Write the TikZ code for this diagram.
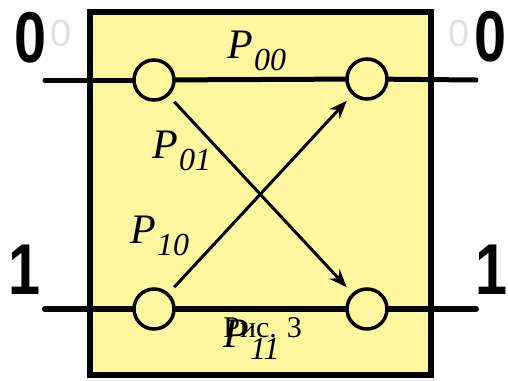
\documentclass[tikz,border=0pt]{standalone}
\usepackage{fontspec}
\setmainfont{Liberation Serif}
\newfontfamily\digitfont{Liberation Sans}
\usetikzlibrary{arrows.meta}
\definecolor{boxyellow}{RGB}{255,246,158}
\tikzset{
    port/.style={circle, draw=black, fill=boxyellow, line width=1.75pt, minimum size=20pt, inner sep=0pt},
    wire/.style={line width=2.5pt, line cap=round},
    arrow/.style={-{Stealth[length=9pt, width=7pt]}, line width=1.5pt, shorten <=4pt, shorten >=4pt},
    bitlabel/.style={font=\digitfont\bfseries\fontsize{36}{36}\selectfont, inner sep=0pt},
    ghost/.style={font=\digitfont\fontsize{19}{19}\selectfont, text=black!12, inner sep=0pt},
    plabel/.style={font=\itshape\fontsize{21}{21}\selectfont, inner sep=0pt, anchor=base west},
}
\newcommand{\prob}[1]{P\kern0.5pt\raisebox{-6pt}{\fontsize{16}{16}\selectfont #1}}
\newcommand{\bitdigit}[1]{\scalebox{0.8}[1]{#1}}

\begin{document}
\begin{tikzpicture}[x=0.5pt, y=-0.5pt]
        \useasboundingbox (0,0) rectangle (508,380);

        % Frame
        \draw[line width=3pt, fill=boxyellow] (90,12) rectangle (431,375);

        % Ports
        \node[port] (in0) at (154,80) {};
        \node[port] (in1) at (154,309) {};
        \node[port] (out0) at (367,79) {};
        \node[port] (out1) at (367,309) {};
        \coordinate (a0) at (45,80);
        \coordinate (b0) at (476,80);
        \coordinate (a1) at (45,309);
        \coordinate (b1) at (476,309);

        % Wires
        \draw[wire] (a0) -- (in0);
        \draw[wire] (in0) -- (out0);
        \draw[wire] (out0) -- (b0);
        \draw[wire, line width=3pt] (a1) -- (in1);
        \draw[wire, line width=3pt] (in1) -- (out1);
        \draw[wire, line width=3pt] (out1) -- (b1);

        % Arrows
        \draw[arrow] (in0) -- (out1);
        \draw[arrow] (in1) -- (out0);

        % Bit labels
        \node[bitlabel] (l0) at (31,38) {\bitdigit{0}};
        \node[bitlabel] (r0) at (491,37) {\bitdigit{0}};
        \node[bitlabel] (l1) at (25,270) {\bitdigit{1}};
        \node[bitlabel] (r1) at (492,270) {\bitdigit{1}};
        \node[ghost] (g0) at (61,33) {0};
        \node[ghost] (g1) at (459,33) {0};

        % Probabilities
        \node[plabel] (p00) at (227,58) {\prob{00}};
        \node[plabel] (p01) at (152,158) {\prob{01}};
        \node[plabel] (p10) at (130,243) {\prob{10}};
        \node[plabel] (p11) at (223,347) {\prob{11}};
        \node[inner sep=0pt, anchor=base west, font=\fontsize{15}{15}\selectfont] (cap) at (223,337) {Рис. 3};
    \end{tikzpicture}
\end{document}
